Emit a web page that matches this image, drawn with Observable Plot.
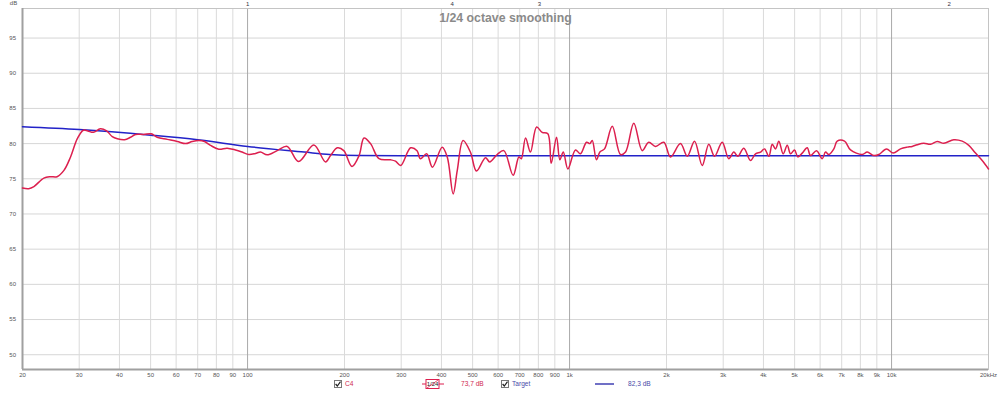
<!DOCTYPE html>
<html><head><meta charset="utf-8">
<script src="https://cdn.jsdelivr.net/npm/d3@7"></script>
<script src="https://cdn.jsdelivr.net/npm/@observablehq/plot@0.6"></script>
<style>
body{margin:0;background:#fff;font-family:"Liberation Sans",Arial,sans-serif}
#wrap{position:relative;width:1000px;height:395px;overflow:hidden}
.lg{position:absolute;font-size:6.6px;line-height:8px;top:380px;white-space:nowrap}
.ic{position:absolute;top:380px;line-height:0}
.ic svg{display:block}
</style></head><body><div id="wrap"></div>
<script>
// C4 measurement, 1/24 octave smoothing (Hz, dB)
const c4Freq = [20,20.9,21.7,23.3,24.4,25.6,26.9,28.2,29.6,30.9,31.9,33.2,34.9,36.5,38.0,39.4,41.5,43.3,44.9,47.6,50.2,52.4,56.3,60.5,64.2,67.3,70.6,73.5,76.7,81.4,86.4,91.7,96.2,100.9,105.8,109.7,115,123.6,132.7,144,160.6,174.6,
  181,190,199,211,222,230,241,256,278,288,299,321,336,344,360,375,402,417,435,448,467,492,514,548,565,596,625,668,696,708,730,756,790,822,856,877,911,933,956,988,1043,1081,1129,1156,1176,1212,1242,1284,1357,1439,1492,1583,1681,1762,1849,
  1962,2058,2210,2320,2444,2582,2706,2820,2978,3122,3236,3330,3476,3648,3780,3918,4032,4158,4260,4362,4466,4608,4742,4856,4996,5116,5280,5470,5602,5848,6090,6236,6384,6618,6780,7144,7456,8106,8402,8808,9128,9646,10116,10660,11182,11588,12012,12592,13210,13860,14530,15606,16570,17372,18224,19118,20000];
const c4Db = [73.7,73.6,73.9,75.1,75.3,75.3,76.2,78.1,80.7,81.9,81.8,81.6,82.1,81.8,81.0,80.7,80.55,80.9,81.3,81.3,81.4,80.9,80.6,80.3,80.0,80.3,80.45,80.3,79.75,79.2,79.35,79.1,78.8,78.45,78.6,78.8,78.4,79.0,79.6,77.45,79.8,77.4,
  78.3,79.4,79.0,76.75,78.3,80.8,80.0,77.85,77.7,77.5,76.9,79.4,79.0,77.85,78.55,76.65,79.5,78.1,72.85,76.2,80.45,78.8,76.1,78.0,77.4,78.45,79.0,75.5,78.1,77.85,80.8,78.8,82.35,81.6,81.4,77.2,80.9,77.7,78.8,76.4,79.1,78.55,80.2,80.0,80.45,77.7,78.8,79.25,82.45,78.45,78.8,82.9,79.0,80.2,79.6,
  80.2,78.1,80.0,78.2,80.35,76.9,79.9,78.2,80.2,77.85,78.8,78.2,79.35,77.6,78.55,78.8,79.25,78.2,79.9,79.25,80.35,78.55,79.75,78.55,79.1,78.1,78.65,79.4,78.3,79.0,77.85,78.8,78.45,79.25,80.35,80.35,79.1,78.45,78.8,78.3,78.45,79.25,78.65,79.25,79.5,79.6,79.85,80.05,79.9,80.3,80.05,80.55,80.35,79.75,78.65,77.6,76.4];

// Target curve
const targetFreq = [20,30,50,70,100,150,180,220,300,20000];
const targetDb = [82.4,82.0,81.2,80.55,79.6,78.8,78.45,78.3,78.27,78.27];

// axes
const xTicks = [20,30,40,50,60,70,80,90,100,200,300,400,500,600,700,800,900,1000,2000,3000,4000,5000,6000,7000,8000,9000,10000,20000];
const xTickLabels = ["20","30","40","50","60","70","80","90","100","200","300","400","500","600","700","800","900","1k","2k","3k","4k","5k","6k","7k","8k","9k","10k","20kHz"];
const xMajor = [100,1000,10000];
const yTicks = [50,55,60,65,70,75,80,85,90,95];
const markerFreqs = [100,432,806,15100];
const markerLabels = ["1","4","3","2"];
const title = "1/24 octave smoothing";
const legendC4 = {name:"C4", smoothing:"1/24", value:"73,7 dB"};
const legendTarget = {name:"Target", value:"82,3 dB"};

const yDomain = [47.9, 99.2];
const c4 = c4Freq.map((f,i)=>({f, v:c4Db[i]}));
const target = targetFreq.map((f,i)=>({f, v:targetDb[i]}));
const xMinor = xTicks.filter(d=>!xMajor.includes(d));

const chart = Plot.plot({
  width:1000, height:395, marginLeft:22, marginRight:12, marginTop:8, marginBottom:26,
  x:{type:"log", domain:[20,20000], axis:null},
  y:{domain:yDomain, axis:null},
  style:{fontFamily:"Liberation Sans, Arial, sans-serif", background:"#fff", overflow:"visible"},
  marks:[
    Plot.ruleY(yTicks,{stroke:"#d6d6d6", strokeWidth:1}),
    Plot.ruleX(xMinor,{stroke:"#dadada", strokeWidth:1}),
    Plot.ruleX(xMajor,{stroke:"#a9a9a9", strokeWidth:1}),
    Plot.frame({stroke:"#c4c4c4"}),
    Plot.ruleX([20],{stroke:"#a0a0a0", strokeWidth:2}),
    Plot.ruleY([yDomain[0]],{stroke:"#a0a0a0", strokeWidth:2}),
    Plot.line(target,{x:"f", y:"v", stroke:"#2222c8", strokeWidth:1.5, curve:"monotone-x"}),
    Plot.line(c4,{x:"f", y:"v", stroke:"#dc1f4e", strokeWidth:1.5, curve:"catmull-rom"}),
    Plot.text(yTicks,{y:d=>d, text:d=>String(d), frameAnchor:"left", textAnchor:"end", lineAnchor:"middle", dx:-6.5, fontSize:6, fill:"#555"}),
    Plot.text(xTicks,{x:d=>d, text:(d,i)=>xTickLabels[i], frameAnchor:"bottom", textAnchor:"middle", lineAnchor:"top", dy:3.5, fontSize:6, fill:"#555"}),
    Plot.text(markerFreqs,{x:d=>d, text:(d,i)=>markerLabels[i], frameAnchor:"top", textAnchor:"middle", lineAnchor:"middle", dy:-4.6, fontSize:6, fill:"#334"}),
    Plot.text([title],{frameAnchor:"top", textAnchor:"middle", lineAnchor:"top", dy:5, fontSize:12.3, fontWeight:"bold", fill:"#8a8a8a"}),
    Plot.text(["dB"],{frameAnchor:"top-left", textAnchor:"middle", lineAnchor:"top", dx:-9, dy:-8, fontSize:6, fill:"#555"})
  ]
});
const wrap = document.getElementById("wrap");
wrap.appendChild(chart);

const cb = '<svg width="8" height="8"><rect x="0.5" y="0.5" width="7" height="7" fill="#fff" stroke="#777"/><polyline points="1.6,4 3.3,6 6.5,1.6" fill="none" stroke="#222" stroke-width="1.2"/></svg>';
const sym = '<svg width="22" height="10"><line x1="0" y1="5" x2="22" y2="5" stroke="#dc1f4e" stroke-width="1"/><rect x="4" y="0.5" width="13" height="9" fill="#fff" stroke="#dc1f4e"/><text x="10.5" y="7.3" font-size="6" text-anchor="middle" fill="#222" font-family="Liberation Sans, Arial">'+legendC4.smoothing+'</text><line x1="5" y1="9" x2="16" y2="1" stroke="#dc1f4e" stroke-width="0.8"/></svg>';
function add(html, left, cls, color, top){
  const d=document.createElement("div"); d.className=cls; d.style.left=left+"px";
  if(color) d.style.color=color; if(top!==undefined) d.style.top=top+"px";
  d.innerHTML=html; wrap.appendChild(d);
}
add(cb,334,"ic",null,379.5);
add(legendC4.name,345,"lg","#d0284f");
add(sym,422,"ic",null,378.5);
add(legendC4.value,461,"lg","#d0284f");
add(cb,501,"ic",null,379.5);
add(legendTarget.name,512,"lg","#4a4aa8");
add('<svg width="19" height="4"><line x1="0" y1="2" x2="19" y2="2" stroke="#2222a8" stroke-width="1.3"/></svg>',595,"ic",null,382);
add(legendTarget.value,628,"lg","#4a4aa8");
</script></body></html>
